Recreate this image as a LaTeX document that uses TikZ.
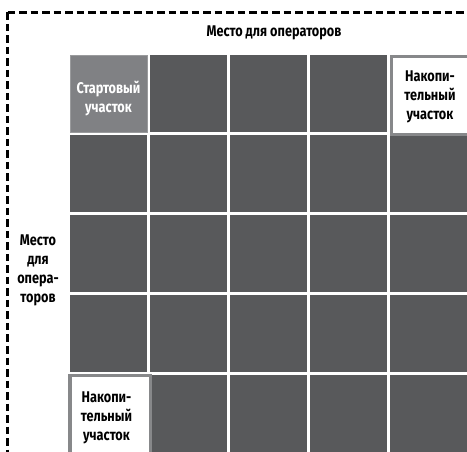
\documentclass[tikz,border=0pt]{standalone}
\usepackage{fontspec}
\setmainfont{Fira Sans}[FakeStretch=0.82]
\begin{document}
\begin{tikzpicture}[x=1pt,y=1pt,
  lbl/.style={font=\bfseries\fontsize{15.5}{19}\selectfont, align=center, inner sep=0pt},
  darkcell/.style={fill=cellDark, draw=cellEdge, line width=0.6pt},
  startcell/.style={fill=cellStart, draw=cellEdge, line width=0.6pt},
  storecell/.style={fill=white, draw=storeEdge, line width=3.2pt},
  zone/.style={draw=black, line width=2.3pt, dash pattern=on 7.5pt off 4pt}]
\definecolor{cellDark}{HTML}{58595B}
\definecolor{cellStart}{HTML}{808184}
\definecolor{cellEdge}{HTML}{9A9B9D}
\definecolor{storeEdge}{HTML}{87888A}
\useasboundingbox (0,0) rectangle (467,451);
\clip (0,0) rectangle (467,451);
% operator zone outline
\draw[zone] (7.5,438.5) -- (480,438.5);
\draw[zone] (7.5,438.5) -- (7.5,-20);
% 5x5 grid of cells, pitch 80, cell 77
\foreach \i in {0,...,4}{
  \foreach \j in {0,...,4}{
    \pgfmathsetmacro{\xa}{70+80*\i}
    \pgfmathsetmacro{\ya}{451-55-80*\j}
    \fill[cellDark] (\xa,\ya) rectangle ++(77,-77);
  }
}
% start cell
\node[startcell, minimum width=77pt, minimum height=77pt, inner sep=0pt, anchor=north west] (start) at (70,396) {};
\node[lbl, text=white, anchor=center] (starttxt) at (108.5,352) {Стартовый\\участок};
% storage cells
\node[storecell, minimum width=90pt, minimum height=78pt, inner sep=0pt, anchor=north west] (storeA) at (389.7,396.3) {};
\node[lbl, anchor=center] (storeAtxt) at (430,354) {Накопи-\\тельный\\участок};
\node[storecell, minimum width=80.7pt, minimum height=90pt, inner sep=0pt, anchor=north west] (storeB) at (68.3,77) {};
\node[lbl, anchor=center] (storeBtxt) at (106.5,33) {Накопи-\\тельный\\участок};
% zone labels
\node[lbl] (topzone) at (274,418) {Место для операторов};
\node[lbl] (leftzone) at (38,181) {Место\\для\\опера-\\торов};
\end{tikzpicture}
\end{document}
